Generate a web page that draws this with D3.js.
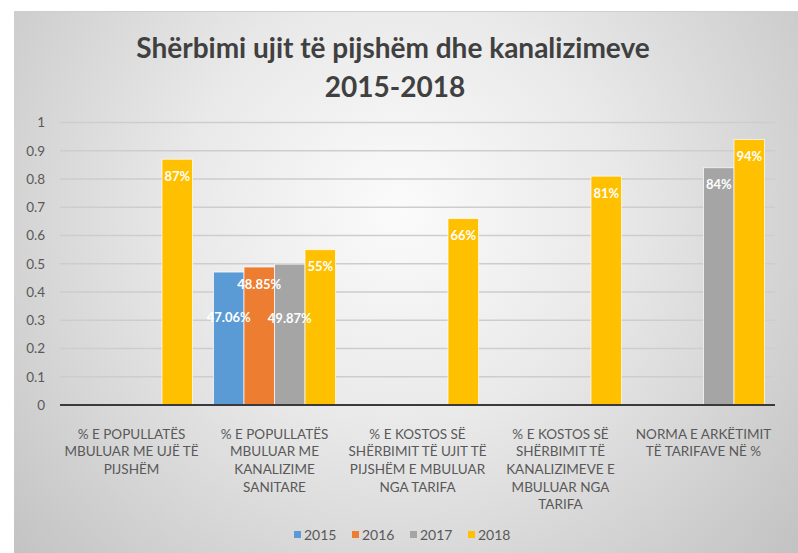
<!DOCTYPE html>
<html>
<head>
<meta charset="utf-8">
<script src="https://cdn.jsdelivr.net/npm/d3@7"></script>
<style>
  html, body { margin: 0; padding: 0; background: #fff; }
  svg { display: block; font-family: Lato, "Open Sans", sans-serif; }
</style>
</head>
<body>
<div id="chart"></div>
<script>
// data
const categories = [
  ["% E POPULLATËS", "MBULUAR ME UJË TË", "PIJSHËM"],
  ["% E POPULLATËS", "MBULUAR ME", "KANALIZIME", "SANITARE"],
  ["% E KOSTOS SË", "SHËRBIMIT TË UJIT TË", "PIJSHËM E MBULUAR", "NGA TARIFA"],
  ["% E KOSTOS SË", "SHËRBIMIT TË", "KANALIZIMEVE E", "MBULUAR NGA", "TARIFA"],
  ["NORMA E ARKËTIMIT", "TË TARIFAVE NË %"]
];
const years = ["2015", "2016", "2017", "2018"];
const values2015 = [null, 0.4706, null, null, null];
const values2016 = [null, 0.4885, null, null, null];
const values2017 = [null, 0.4987, null, null, 0.84];
const values2018 = [0.87, 0.55, 0.66, 0.81, 0.94];
const labels2015 = [null, "47.06%", null, null, null];
const labels2016 = [null, "48.85%", null, null, null];
const labels2017 = [null, "49.87%", null, null, "84%"];
const labels2018 = ["87%", "55%", "66%", "81%", "94%"];
const yTicks = [0, 0.1, 0.2, 0.3, 0.4, 0.5, 0.6, 0.7, 0.8, 0.9, 1];
const colors = ["#5b9bd5", "#ed7d31", "#a5a5a5", "#ffc000"];

const seriesValues = [values2015, values2016, values2017, values2018];
const seriesLabels = [labels2015, labels2016, labels2017, labels2018];

// labels that Excel pushed further down in the bar
const labelDrop = { "1-0": 28, "1-2": 37 };

function chart() {
  const W = 798, H = 553;
  const svg = d3.select("#chart").append("svg")
    .attr("width", W).attr("height", H);

  // background
  const defs = svg.append("defs");
  const grad = defs.append("radialGradient")
    .attr("id", "bg")
    .attr("gradientUnits", "userSpaceOnUse")
    .attr("cx", 400).attr("cy", 210).attr("r", 540);
  grad.append("stop").attr("offset", "0%").attr("stop-color", "#fbfbfb");
  grad.append("stop").attr("offset", "40%").attr("stop-color", "#e9e9e9");
  grad.append("stop").attr("offset", "100%").attr("stop-color", "#c0c0c0");

  svg.append("rect")
    .attr("x", 14).attr("y", 11)
    .attr("width", W - 14).attr("height", H - 11)
    .attr("fill", "url(#bg)");
  svg.append("line")
    .attr("x1", 14).attr("x2", W).attr("y1", 11.5).attr("y2", 11.5)
    .attr("stroke", "#cfcfcf");

  // title
  const title = svg.append("text")
    .attr("text-anchor", "middle")
    .attr("fill", "#404040")
    .attr("font-weight", "bold")
    .attr("font-size", 28);
  title.append("tspan").attr("x", 393).attr("y", 58)
    .text("Shërbimi ujit të pijshëm dhe kanalizimeve");
  title.append("tspan").attr("x", 395).attr("y", 97)
    .text("2015-2018");

  // scales
  const x0 = d3.scaleBand()
    .domain(d3.range(categories.length))
    .range([60, 775])
    .padding(0);

  const x1 = d3.scaleBand()
    .domain(years)
    .range([0, x0.bandwidth()])
    .paddingInner(0)
    .paddingOuter(0.344);

  const y = d3.scaleLinear()
    .domain([0, 1])
    .range([405, 122.5]);

  // grid
  svg.append("g")
    .selectAll("line")
    .data(yTicks.slice(1))
    .join("line")
    .attr("x1", 60).attr("x2", 775)
    .attr("y1", d => y(d)).attr("y2", d => y(d))
    .attr("stroke", "#cdcdcd")
    .attr("stroke-width", 1.3);

  // y axis labels
  const yAxis = svg.append("g")
    .attr("transform", "translate(60,0)")
    .call(d3.axisLeft(y).tickValues(yTicks).tickFormat(d => d3.format("")(+d.toFixed(1))).tickSize(0).tickPadding(15));
  yAxis.select(".domain").remove();
  yAxis.selectAll("text")
    .attr("fill", "#595959")
    .attr("font-size", 13.5)
    .attr("font-family", "Lato, sans-serif");

  // bars
  const bars = [];
  seriesValues.forEach((vals, si) => {
    vals.forEach((v, ci) => {
      if (v != null) bars.push({ ci, si, year: years[si], value: v, label: seriesLabels[si][ci] });
    });
  });

  svg.append("g")
    .selectAll("rect")
    .data(bars)
    .join("rect")
    .attr("x", d => x0(d.ci) + x1(d.year))
    .attr("y", d => y(d.value))
    .attr("width", x1.bandwidth())
    .attr("height", d => y(0) - y(d.value))
    .attr("fill", d => colors[d.si])
    .attr("stroke", "rgba(255,255,255,0.7)")
    .attr("stroke-width", 1);

  // x axis line
  svg.append("line")
    .attr("x1", 60).attr("x2", 775)
    .attr("y1", y(0)).attr("y2", y(0))
    .attr("stroke", "#3a3a3a")
    .attr("stroke-width", 2);

  // data labels
  svg.append("g")
    .selectAll("text")
    .data(bars)
    .join("text")
    .attr("x", d => x0(d.ci) + x1(d.year) + x1.bandwidth() / 2)
    .attr("y", d => y(d.value) + 17 + (labelDrop[d.ci + "-" + d.si] || 0))
    .attr("dy", "0.35em")
    .attr("text-anchor", "middle")
    .attr("fill", "#fff")
    .attr("font-weight", "bold")
    .attr("font-size", 13)
    .text(d => d.label);

  // category labels
  const cat = svg.append("g")
    .selectAll("text")
    .data(categories)
    .join("text")
    .attr("text-anchor", "middle")
    .attr("fill", "#595959")
    .attr("font-size", 13.5);
  cat.selectAll("tspan")
    .data((d, i) => d.map(line => ({ line, i })))
    .join("tspan")
    .attr("x", d => x0(d.i) + x0.bandwidth() / 2)
    .attr("y", (d, j) => 434 + j * 17.6)
    .attr("dy", "0.35em")
    .text(d => d.line);

  // legend
  const legendX = [294, 352, 410, 468];
  const legend = svg.append("g")
    .selectAll("g")
    .data(years)
    .join("g")
    .attr("transform", (d, i) => `translate(${legendX[i]},535)`);
  legend.append("rect")
    .attr("x", 0).attr("y", -4)
    .attr("width", 7).attr("height", 7)
    .attr("fill", (d, i) => colors[i]);
  legend.append("text")
    .attr("x", 10).attr("y", 0)
    .attr("dy", "0.35em")
    .attr("fill", "#595959")
    .attr("font-size", 14)
    .text(d => d);
}
chart();
</script>
</body>
</html>
